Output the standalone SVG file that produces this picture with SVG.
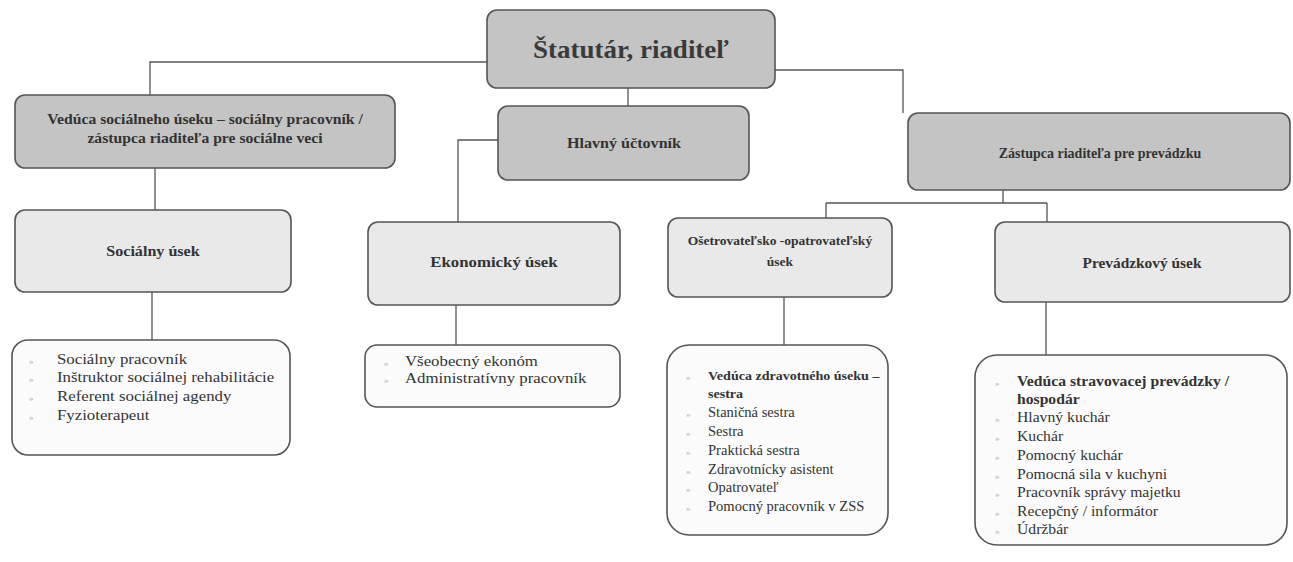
<svg xmlns="http://www.w3.org/2000/svg" width="1293" height="562" viewBox="0 0 1293 562">
<style>
.l1{fill:#c4c4c4;stroke:#555;stroke-width:1.6}
.l3{fill:#e9e9e9;stroke:#555;stroke-width:1.6}
.ls{fill:#fbfbfb;stroke:#555;stroke-width:1.6}
.c{fill:none;stroke:#555;stroke-width:1.3}
text{font-family:"Liberation Serif","Times New Roman",serif;fill:#333}
.t{font-size:25px;font-weight:bold;text-anchor:middle;fill:#3a3a3a}
.h{font-size:14px;font-weight:bold;text-anchor:middle}
.i{font-size:14px}
.b{font-size:14px;font-weight:bold}
.bu{font-size:9px;fill:#aaa}
</style>
<rect width="1293" height="562" fill="#ffffff"/>
<g id="connectors">
<path class="c" d="M487 62 H150 V95"/>
<path class="c" d="M775 70 H903 V113"/>
<path class="c" d="M628 88 V106"/>
<path class="c" d="M155 168 V210"/>
<path class="c" d="M498 140 H458 V222"/>
<path class="c" d="M1003 190 V203 M826 203 H1047 M826 203 V218 M1047 203 V222"/>
<path class="c" d="M152 292 V340"/>
<path class="c" d="M456 305 V345"/>
<path class="c" d="M784 297 V345"/>
<path class="c" d="M1046 302 V355"/>
</g>
<g id="n-statutar">
<rect class="l1" x="487" y="10" width="288" height="78" rx="10"/>
<text class="t" x="631" y="58" transform="translate(631,0) scale(1.08,1) translate(-631,0)">Štatutár, riaditeľ</text>
</g>
<g id="n-veduca-soc">
<rect class="l1" x="15" y="95" width="380" height="73" rx="10"/>
<g transform="translate(205,0) scale(1.12,1) translate(-205,0)">
<text class="h" x="205" y="124">Vedúca sociálneho úseku – sociálny pracovník /</text>
<text class="h" x="205" y="143">zástupca riaditeľa pre sociálne veci</text>
</g>
</g>
<g id="n-hlavny">
<rect class="l1" x="498" y="106" width="251" height="74" rx="10"/>
<text class="h" x="624" y="148" transform="translate(624,0) scale(1.15,1) translate(-624,0)">Hlavný účtovník</text>
</g>
<g id="n-zastupca">
<rect class="l1" x="908" y="113" width="382" height="77" rx="10"/>
<text class="h" x="1100" y="158">Zástupca riaditeľa pre prevádzku</text>
</g>
<g id="n-socialny-usek">
<rect class="l3" x="15" y="210" width="276" height="82" rx="10"/>
<text class="h" x="153" y="256" transform="translate(153,0) scale(1.15,1) translate(-153,0)">Sociálny úsek</text>
</g>
<g id="n-ekonomicky-usek">
<rect class="l3" x="368" y="222" width="252" height="83" rx="10"/>
<text class="h" x="494" y="267" transform="translate(494,0) scale(1.2,1) translate(-494,0)">Ekonomický úsek</text>
</g>
<g id="n-osetrovatelsky-usek">
<rect class="l3" x="668" y="218" width="224" height="79" rx="10"/>
<text class="h" x="780" y="245" style="font-size:13.5px">Ošetrovateľsko -opatrovateľský</text>
<text class="h" x="780" y="266" style="font-size:13.5px">úsek</text>
</g>
<g id="n-prevadzkovy-usek">
<rect class="l3" x="995" y="222" width="295" height="80" rx="10"/>
<text class="h" x="1142" y="268" transform="translate(1142,0) scale(1.1,1) translate(-1142,0)">Prevádzkový úsek</text>
</g>
<g id="n-list-soc">
<rect class="ls" x="12" y="340" width="278" height="115" rx="16"/>
<text class="bu" x="29" y="364">»</text>
<text class="bu" x="29" y="382">»</text>
<text class="bu" x="29" y="401">»</text>
<text class="bu" x="29" y="420">»</text>
<g transform="translate(57,0) scale(1.2,1) translate(-57,0)">
<text class="i" x="57" y="364">Sociálny pracovník</text>
<text class="i" x="57" y="382">Inštruktor sociálnej rehabilitácie</text>
<text class="i" x="57" y="401">Referent sociálnej agendy</text>
<text class="i" x="57" y="420">Fyzioterapeut</text>
</g>
</g>
<g id="n-list-eko">
<rect class="ls" x="365" y="345" width="255" height="62" rx="12"/>
<text class="bu" x="384" y="366">»</text>
<text class="bu" x="384" y="383">»</text>
<g transform="translate(405,0) scale(1.2,1) translate(-405,0)">
<text class="i" x="405" y="366">Všeobecný ekonóm</text>
<text class="i" x="405" y="383">Administratívny pracovník</text>
</g>
</g>
<g id="n-list-ose">
<rect class="ls" x="667" y="345" width="221" height="190" rx="22"/>
<text class="bu" x="686" y="380">»</text>
<text class="bu" x="686" y="417">»</text>
<text class="bu" x="686" y="436">»</text>
<text class="bu" x="686" y="455">»</text>
<text class="bu" x="686" y="474">»</text>
<text class="bu" x="686" y="492">»</text>
<text class="bu" x="686" y="511">»</text>
<g transform="translate(708,0) scale(1.04,1) translate(-708,0)">
<text class="b" x="708" y="380" style="font-size:13.5px">Vedúca zdravotného úseku –</text>
<text class="b" x="708" y="398" style="font-size:13.5px">sestra</text>
<text class="i" x="708" y="417">Staničná sestra</text>
<text class="i" x="708" y="436">Sestra</text>
<text class="i" x="708" y="455">Praktická sestra</text>
<text class="i" x="708" y="474">Zdravotnícky asistent</text>
<text class="i" x="708" y="492">Opatrovateľ</text>
<text class="i" x="708" y="511">Pomocný pracovník v ZSS</text>
</g>
</g>
<g id="n-list-prev">
<rect class="ls" x="975" y="355" width="312" height="190" rx="22"/>
<text class="bu" x="995" y="386">»</text>
<text class="bu" x="995" y="422">»</text>
<text class="bu" x="995" y="441">»</text>
<text class="bu" x="995" y="460">»</text>
<text class="bu" x="995" y="479">»</text>
<text class="bu" x="995" y="497">»</text>
<text class="bu" x="995" y="516">»</text>
<text class="bu" x="995" y="534">»</text>
<g transform="translate(1017,0) scale(1.12,1) translate(-1017,0)">
<text class="b" x="1017" y="386">Vedúca stravovacej prevádzky /</text>
<text class="b" x="1017" y="404">hospodár</text>
<text class="i" x="1017" y="422">Hlavný kuchár</text>
<text class="i" x="1017" y="441">Kuchár</text>
<text class="i" x="1017" y="460">Pomocný kuchár</text>
<text class="i" x="1017" y="479">Pomocná sila v kuchyni</text>
<text class="i" x="1017" y="497">Pracovník správy majetku</text>
<text class="i" x="1017" y="516">Recepčný / informátor</text>
<text class="i" x="1017" y="534">Údržbár</text>
</g>
</g>
</svg>
